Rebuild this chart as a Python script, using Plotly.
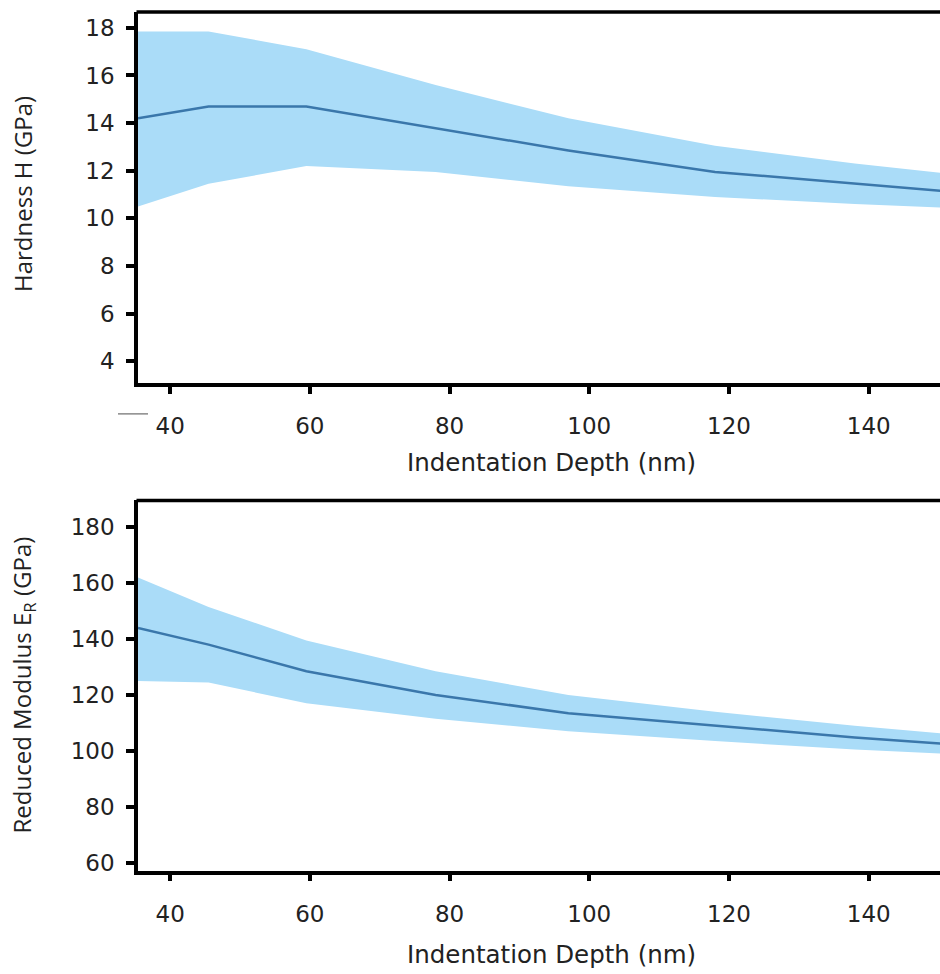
import plotly.graph_objects as go

# ---------------- data ----------------
depth_h = [35.4, 45.5, 59.5, 78, 97, 118, 138, 150.5]
hard_mean = [14.2, 14.7, 14.7, 13.8, 12.85, 11.95, 11.45, 11.15]
hard_upper = [17.85, 17.85, 17.1, 15.6, 14.2, 13.05, 12.3, 11.9]
hard_lower = [10.5, 11.45, 12.2, 11.95, 11.35, 10.9, 10.6, 10.45]

depth_e = [35.4, 45.5, 59.5, 78, 97, 118, 138, 150.5]
mod_mean = [144.0, 138.0, 128.5, 120.0, 113.5, 109.0, 104.8, 102.6]
mod_upper = [162.0, 151.5, 139.5, 128.5, 120.0, 114.0, 109.0, 106.2]
mod_lower = [125.0, 124.5, 117.0, 111.5, 107.0, 103.5, 100.5, 99.0]

x_ticks = [40, 60, 80, 100, 120, 140]
h_ticks = [4, 6, 8, 10, 12, 14, 16, 18]
e_ticks = [60, 80, 100, 120, 140, 160, 180]

BAND = "#aadcf8"
LINE = "#3a77ab"
FONT = "DejaVu Sans"
YFONT = "Open Sans"

W, H = 940, 974

def py(px):
    return 1 - px / H

def px_(x):
    return x / W

fig = go.Figure()

def add_band(x, lo, hi, mean, xa, ya):
    fig.add_trace(go.Scatter(x=x, y=lo, mode="lines", line=dict(width=0, color=BAND),
                             xaxis=xa, yaxis=ya, showlegend=False, hoverinfo="skip"))
    fig.add_trace(go.Scatter(x=x, y=hi, mode="lines", line=dict(width=0, color=BAND),
                             fill="tonexty", fillcolor=BAND,
                             xaxis=xa, yaxis=ya, showlegend=False, hoverinfo="skip"))
    fig.add_trace(go.Scatter(x=x, y=mean, mode="lines", line=dict(width=2.5, color=LINE),
                             xaxis=xa, yaxis=ya, showlegend=False))

add_band(depth_h, hard_lower, hard_upper, hard_mean, "x", "y")
add_band(depth_e, mod_lower, mod_upper, mod_mean, "x2", "y2")

xdom = [px_(138), 1.0]
common_x = dict(range=[35.4, 150.2], tickvals=x_ticks, ticks="outside", ticklen=7, tickwidth=3.5,
                tickcolor="black", showline=True, linecolor="black", linewidth=3.5, mirror=False,
                showgrid=False, zeroline=False, tickfont=dict(family=FONT, size=23, color="#222"),
                ticklabelstandoff=13, domain=xdom)
common_y = dict(ticks="outside", ticklen=8, tickwidth=3.5, tickcolor="black", showline=True,
                linecolor="black", linewidth=3.5, showgrid=False, zeroline=False,
                tickfont=dict(family=FONT, size=23, color="#222"), ticklabelstandoff=7)

fig.update_layout(
    width=W, height=H, margin=dict(l=0, r=0, t=0, b=0),
    paper_bgcolor="white", plot_bgcolor="white", showlegend=False,
    xaxis=dict(**common_x, anchor="y"),
    yaxis=dict(**common_y, range=[3.08, 18.67], tickvals=h_ticks, domain=[py(385), py(12)], anchor="x"),
    xaxis2=dict(**common_x, anchor="y2"),
    yaxis2=dict(**common_y, range=[57.2, 189.6], tickvals=e_ticks, domain=[py(875), py(503)], anchor="x2"),
)

# top borders
for yy in (12, 503):
    fig.add_shape(type="line", xref="paper", yref="paper", x0=px_(136.5), x1=1.0, y0=py(yy), y1=py(yy),
                  line=dict(color="black", width=3.5))
# small gray dash artifact
fig.add_shape(type="line", xref="paper", yref="paper", x0=px_(118), x1=px_(148), y0=py(416), y1=py(416),
              line=dict(color="#888", width=1.5))

ann_font = dict(family=FONT, size=24.5, color="#222")
yann_font = dict(family=YFONT, size=24, color="#222")
fig.add_annotation(text="Indentation Depth (nm)", xref="paper", yref="paper", x=px_(551), y=py(465),
                   showarrow=False, font=ann_font, xanchor="center", yanchor="middle")
fig.add_annotation(text="Indentation Depth (nm)", xref="paper", yref="paper", x=px_(551), y=py(959),
                   showarrow=False, font=ann_font, xanchor="center", yanchor="middle")
fig.add_annotation(text="Hardness H (GPa)", xref="paper", yref="paper", x=px_(23), y=py(195),
                   showarrow=False, font=yann_font, textangle=-90, xanchor="center", yanchor="middle")
fig.add_annotation(text="Reduced Modulus E<sub>R</sub> (GPa)", xref="paper", yref="paper", x=px_(23), y=py(689),
                   showarrow=False, font=yann_font, textangle=-90, xanchor="center", yanchor="middle")

fig.write_html("out.html")
